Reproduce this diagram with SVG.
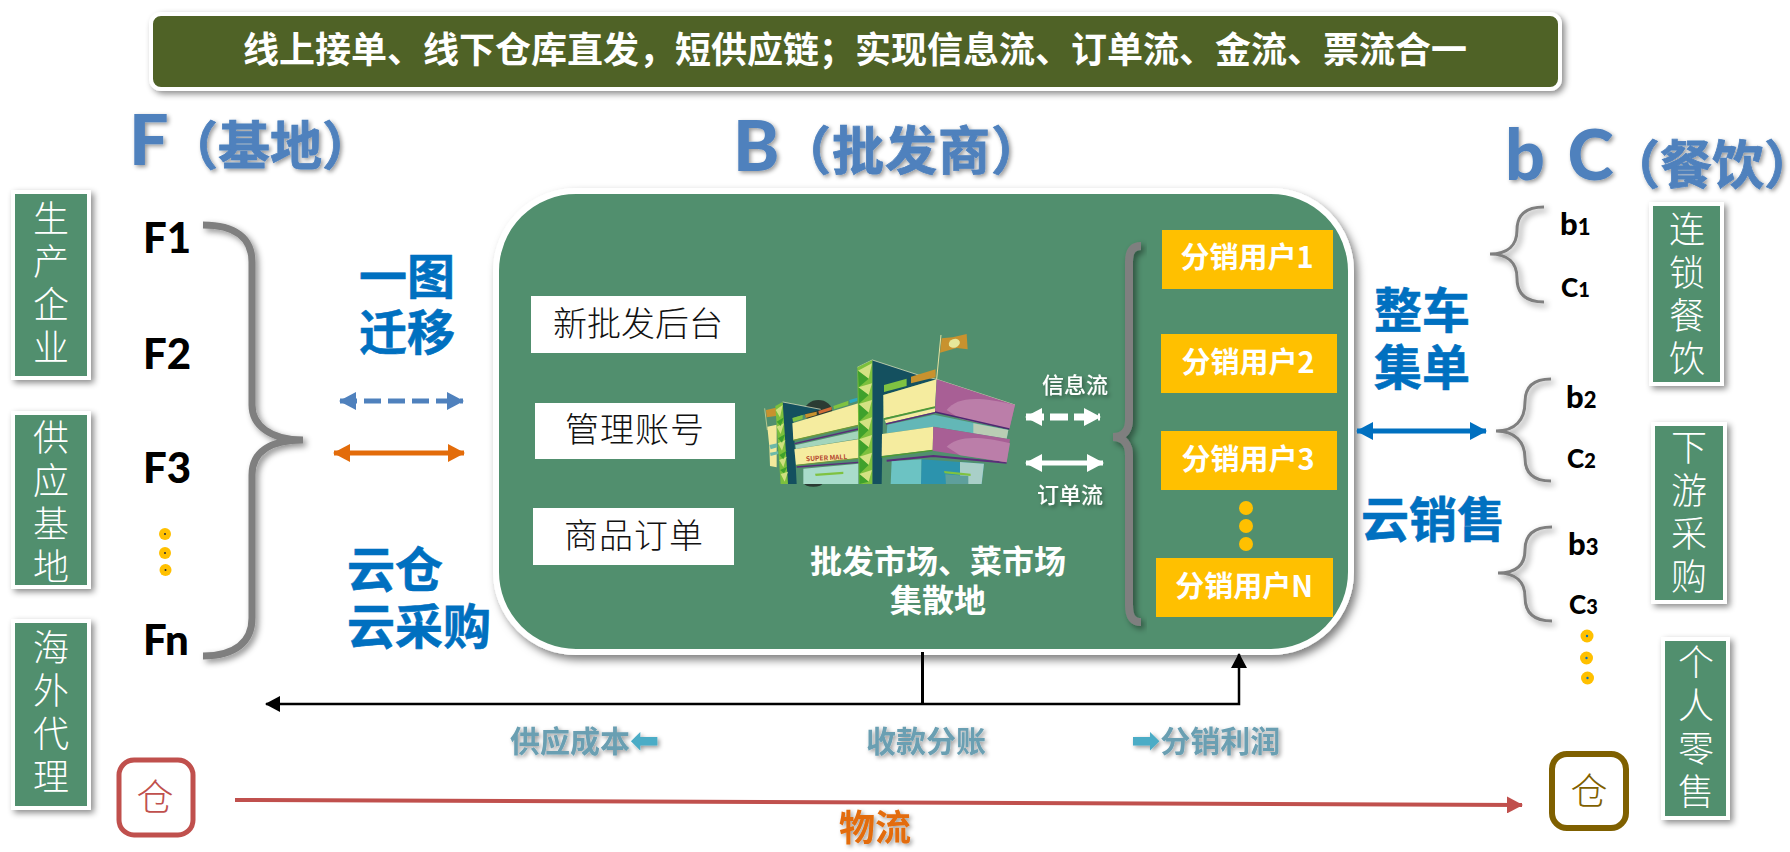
<svg xmlns="http://www.w3.org/2000/svg" width="1790" height="852" viewBox="0 0 1790 852">
<style>
text{font-family:"Noto Sans CJK SC","Noto Sans",sans-serif}
.box{fill:#518f6e;stroke:#fff;stroke-width:4;filter:url(#sh)}
.vt{writing-mode:vertical-rl;font-size:36px;fill:#fff;font-weight:300;letter-spacing:7px}
.head{fill:#4f81bd;font-weight:700;font-size:52px;stroke:#4f81bd;stroke-width:.8;filter:url(#ts)}
.lat{font-family:Lato,"Noto Sans",sans-serif;font-weight:900}
.big{fill:#4f81bd;font-size:70px;filter:url(#ts)}
.blue{fill:#0070c0;stroke:#0070c0;stroke-width:.6;font-weight:700;font-size:48px}
.f{font-size:42px;fill:#000}
.sm{fill:#000}
.wb{fill:#fff;stroke:none}
.wt{font-size:34px;fill:#111;font-weight:300;text-anchor:middle}
.yb{fill:#ffc000}
.yt{font-size:29px;font-weight:700;fill:#fff;text-anchor:middle}
.gt{font-size:30px;font-weight:700;fill:#6a9fb2;filter:url(#ts)}
.ga{font-family:"DejaVu Sans",sans-serif;font-size:35px;fill:#4bacc6}
.fl{font-size:22px;font-weight:500;fill:#fff;text-anchor:middle;filter:url(#ts)}
.mk{font-size:32px;font-weight:700;fill:#fff;text-anchor:middle}
.br{fill:none;stroke:#7f7f7f;filter:url(#sh)}
.dot{fill:#ffc000}
.pip{fill:#1f2a3a}
</style>
<defs>
<filter id="sh" x="-20%" y="-20%" width="140%" height="140%"><feDropShadow dx="3" dy="3" stdDeviation="3" flood-color="#000" flood-opacity=".45"/></filter>
<filter id="shb" x="-5%" y="-5%" width="110%" height="112%"><feDropShadow dx="4" dy="5" stdDeviation="4" flood-color="#000" flood-opacity=".5"/></filter>
<filter id="ts" x="-10%" y="-10%" width="125%" height="130%"><feDropShadow dx="2" dy="2" stdDeviation="2" flood-color="#000" flood-opacity=".4"/></filter>
<marker id="ab" markerUnits="userSpaceOnUse" markerWidth="18" markerHeight="18" refX="16" refY="9" orient="auto-start-reverse"><path d="M0 0L17 9L0 18z" fill="#4f81bd"/></marker>
<marker id="ao" markerUnits="userSpaceOnUse" markerWidth="18" markerHeight="18" refX="16" refY="9" orient="auto-start-reverse"><path d="M0 0L17 9L0 18z" fill="#e36c0a"/></marker>
<marker id="ac" markerUnits="userSpaceOnUse" markerWidth="18" markerHeight="18" refX="16" refY="9" orient="auto-start-reverse"><path d="M0 0L17 9L0 18z" fill="#0070c0"/></marker>
<marker id="aw" markerUnits="userSpaceOnUse" markerWidth="18" markerHeight="18" refX="16" refY="9" orient="auto-start-reverse"><path d="M0 0L17 9L0 18z" fill="#fff"/></marker>
<marker id="ak" markerUnits="userSpaceOnUse" markerWidth="16" markerHeight="16" refX="14" refY="8" orient="auto-start-reverse"><path d="M0 0L15 8L0 16z" fill="#000"/></marker>
<marker id="ar" markerUnits="userSpaceOnUse" markerWidth="17" markerHeight="17" refX="15" refY="8.5" orient="auto-start-reverse"><path d="M0 0L16 8.500L0 17z" fill="#c0504d"/></marker>
</defs>
<rect width="1790" height="852" fill="#fff"/>

<g id="banner">
<rect x="151" y="14" width="1409" height="75" rx="10" fill="#4f6228" stroke="#fff" stroke-width="4" filter="url(#sh)"/>
<text x="855" y="63" font-size="36" font-weight="700" fill="#fff" text-anchor="middle">线上接单、线下仓库直发，短供应链；实现信息流、订单流、金流、票流合一</text>
</g>

<g id="heading-f"><text class="lat big" x="129" y="165">F</text><text class="head" x="166" y="165">（基地）</text></g>
<g id="heading-b"><text class="lat big" x="733" y="171">B</text><text class="head" x="779" y="170" letter-spacing="1">（批发商）</text></g>
<g id="heading-c"><text class="lat big" x="1505" y="180" word-spacing="6">b C</text><text class="head" x="1608" y="184">（餐饮<tspan letter-spacing="-30">）</tspan></text></g>

<g id="left-1"><rect class="box" x="13" y="192" width="76" height="186"/><text class="vt" x="51" y="200">生产企业</text></g>
<g id="left-2"><rect class="box" x="13" y="413" width="76" height="174"/><text class="vt" x="51" y="419">供应基地</text></g>
<g id="left-3"><rect class="box" x="13" y="621" width="76" height="187"/><text class="vt" x="51" y="629">海外代理</text></g>

<g id="right-1"><rect class="box" x="1651" y="204" width="71" height="180"/><text class="vt" x="1687" y="211">连锁餐饮</text></g>
<g id="right-2"><rect class="box" x="1653" y="424" width="72" height="178"/><text class="vt" x="1689" y="429">下游采购</text></g>
<g id="right-3"><rect class="box" x="1663" y="639" width="65" height="179"/><text class="vt" x="1696" y="644">个人零售</text></g>

<g id="f-list">
<text class="lat f" x="143" y="253">F1</text>
<text class="lat f" x="143" y="369">F2</text>
<text class="lat f" x="143" y="483">F3</text>
<text class="lat f" x="143" y="655">Fn</text>
<circle class="dot" cx="165" cy="534" r="6"/><circle class="dot" cx="165" cy="553" r="6"/><circle class="dot" cx="165.500" cy="570" r="6"/>
<circle class="pip" cx="165" cy="534" r="1"/><circle class="pip" cx="165" cy="553" r="1"/><circle class="pip" cx="165.500" cy="570" r="1"/>
</g>

<g id="f-brace"><path class="br" stroke-width="7" d="M203 225C235 225 252 238 252 262V405C252 425 270 440 303 440C270 440 252 452 252 475V618C252 642 235 656 203 656"/></g>

<g id="label-migrate"><text class="blue" text-anchor="middle"><tspan x="407" y="294">一图</tspan><tspan x="407" y="350">迁移</tspan></text></g>
<g id="label-cloud"><text class="blue"><tspan x="347" y="587">云仓</tspan><tspan x="347" y="644">云采购</tspan></text></g>

<g id="market">
<rect x="496" y="191" width="855" height="461" rx="80" fill="#518f6e" stroke="#fff" stroke-width="6" filter="url(#shb)"/>
</g>

<g id="node-backend"><rect class="wb" x="531" y="296" width="215" height="57"/><text class="wt" x="638" y="336">新批发后台</text></g>
<g id="node-account"><rect class="wb" x="535" y="403" width="200" height="56"/><text class="wt" x="635" y="442" letter-spacing="1">管理账号</text></g>
<g id="node-orders"><rect class="wb" x="533" y="508" width="201" height="57"/><text class="wt" x="634" y="548" letter-spacing="1">商品订单</text></g>

<g id="building" transform="translate(760 330) scale(.3333)">
<ellipse cx="175" cy="245" rx="42" ry="35" fill="#2b3b33"/>
<ellipse cx="160" cy="460" rx="28" ry="10" fill="#2b3b33"/>
<path d="M14 235L22 300" stroke="#e8e2a0" stroke-width="2"/>
<path d="M18 240L48 233V258L20 262z" fill="#c8922e"/>
<path d="M22 290L50 284V412L30 408L28 350z" fill="#f3e99c"/>
<path d="M28 345L52 340V352L32 358zM30 368L55 364V372L32 378z" fill="#6cb9a9"/>
<path d="M68 216L182 238L100 264L110 462H66z" fill="#14505f"/>
<path d="M68 216L182 238" stroke="#f5f2c8" stroke-width="2"/>
<path d="M46 228L68 216L84 462H62z" fill="#7cc03d"/>
<path d="M47 240L68 225L60 262zM50 290L72 280L62 312zM54 340L76 330L66 362zM58 390L80 380L70 412zM62 432L84 425L74 455z" fill="#cfe07f"/>
<path d="M50 275L72 262L62 288zM54 325L76 312L66 338zM58 375L80 362L70 388zM60 420L82 410L72 430z" fill="#3fa12c"/>
<path d="M97 280L295 220V285L100 330z" fill="#f5ec9f"/>
<path d="M100 331L295 286" stroke="#6f9b35" stroke-width="4"/>
<path d="M104 341L295 297" stroke="#5a2d7a" stroke-width="4"/>
<path d="M106 346L295 303V326L108 357z" fill="#a3d5bc"/>
<path d="M103 358L295 328V385L108 405z" fill="#f5ec9f"/>
<path d="M108 406L295 385" stroke="#6f9b35" stroke-width="3"/>
<path d="M110 411L295 397" stroke="#5a2d7a" stroke-width="4"/>
<path d="M130 416L295 401V462H130z" fill="#a9dccb"/>
<path d="M165 431L250 425V432L167 438z" fill="#7fc241"/>
<path d="M97 264L128 255V267L99 275zM220 228L265 212V225L222 238z" fill="#7fc241"/>
<path d="M135 253L170 245V255L137 264z" fill="#c8922e"/>
<path d="M175 243L215 230V240L177 252z" fill="#d06b35"/>
<path d="M268 210L292 203V213L270 220z" fill="#2aa8c0"/>
<path d="M337 90L475 135L530 148L370 195L365 462H337z" fill="#14505f"/>
<path d="M292 112L337 90L475 135L530 148L765 225" fill="none" stroke="#f5f2c8" stroke-width="2"/>
<path d="M292 112L337 90V462H297z" fill="#7cc03d"/>
<path d="M294 122L336 100L326 146zM295 172L336 160L326 195zM296 222L336 210L326 248zM297 275L336 262L326 300zM297 328L336 315L326 352zM298 380L336 368L326 405zM298 432L336 420L326 455z" fill="#d3e283"/>
<path d="M294 122L326 146L296 172zM295 172L326 195L296 222zM296 222L326 248L297 275zM297 275L326 300L297 328zM297 328L326 352L298 380zM298 380L326 405L298 432zM298 432L326 455L298 462z" fill="#3fa12c"/>
<path d="M372 165L440 146V168L372 186z" fill="#7fc241"/>
<path d="M453 140L527 118V142L453 160z" fill="#c8922e"/>
<path d="M370 195L530 148L525 230L371 265z" fill="#f5ec9f"/>
<path d="M372 267L525 231" stroke="#4f9a33" stroke-width="4"/>
<path d="M374 270L525 235V246L378 280z" fill="#f5ec9f"/>
<path d="M378 282L525 248" stroke="#5a2d7a" stroke-width="4"/>
<path d="M382 284L522 254V290L380 310z" fill="#63b7b7"/>
<path d="M366 312L520 290L518 360L365 378z" fill="#f5ec9f"/>
<path d="M365 381L518 361" stroke="#4f9a33" stroke-width="4"/>
<path d="M380 392L520 378L740 398" fill="none" stroke="#5a2d7a" stroke-width="6"/>
<path d="M530 148L765 225L748 297L525 246z" fill="#a85f95"/>
<path d="M560 240C590 205 640 195 765 225L748 297L600 266z" fill="#bb7ea9"/>
<path d="M525 246L748 297" stroke="#4c2870" stroke-width="5"/>
<path d="M522 254L745 300L740 326L520 290z" fill="#63b7b7"/>
<path d="M640 280L745 300L740 326L640 310z" fill="#b9cdb4"/>
<path d="M520 290L750 328L740 397L518 362z" fill="#a85f95"/>
<path d="M560 350C590 320 650 315 750 340L740 397L600 376z" fill="#bb7ea9"/>
<path d="M395 394L485 388V462H392z" fill="#6cc3c3"/>
<path d="M485 388L672 401L665 462H483z" fill="#2c93ad"/>
<path d="M600 396L672 401L665 462H600z" fill="#a9cfc8"/>
<path d="M552 423L632 431V438L554 430z" fill="#7fc241"/>
<path d="M556 433L625 438V462H558z" fill="#5e9f9c"/>
<path d="M543 15L530 148" stroke="#e8e2a0" stroke-width="3"/>
<path d="M545 25L578 22L620 12L623 58L590 54L540 68z" fill="#c8922e"/>
<ellipse cx="583" cy="40" rx="17" ry="13" fill="#e6e79a" transform="rotate(-20 583 40)"/>
<text x="138" y="394" font-size="20" font-weight="700" fill="#b5472f" transform="rotate(-3 138 394)">SUPER MALL</text>
</g>

<g id="flow-labels"><text class="fl" x="1075" y="393">信息流</text><text class="fl" x="1070" y="503">订单流</text></g>
<g id="label-market"><text class="mk"><tspan x="938" y="573">批发市场、菜市场</tspan><tspan x="938" y="612">集散地</tspan></text></g>

<g id="inner-brace"><path class="br" stroke-width="8" d="M1141 246C1132 246 1129 252 1129 262V420C1129 430 1124 437 1113 437C1124 437 1129 445 1129 455V605C1129 616 1132 622 1141 622"/></g>

<g id="seller-1"><rect class="yb" x="1162" y="230" width="171" height="59"/><text class="yt" x="1247" y="268">分销用户1</text></g>
<g id="seller-2"><rect class="yb" x="1161" y="334" width="176" height="59"/><text class="yt" x="1248" y="373">分销用户2</text></g>
<g id="seller-3"><rect class="yb" x="1161" y="431" width="176" height="59"/><text class="yt" x="1248" y="470">分销用户3</text></g>
<circle class="dot" cx="1246" cy="508" r="7"/><circle class="dot" cx="1246" cy="526" r="7"/><circle class="dot" cx="1246" cy="544" r="7"/>
<g id="seller-n"><rect class="yb" x="1156" y="558" width="177" height="59"/><text class="yt" x="1244" y="597">分销用户N</text></g>

<g id="label-truck"><text class="blue" text-anchor="middle"><tspan x="1422" y="328">整车</tspan><tspan x="1422" y="385">集单</tspan></text></g>
<g id="label-cloudsale"><text class="blue" x="1433" y="537" text-anchor="middle">云销售</text></g>

<g id="braces-right">
<path class="br" stroke-width="3" d="M1544 207C1526 207 1517 215 1517 230C1517 245 1508 254 1490 254C1508 254 1517 263 1517 278C1517 294 1526 302 1544 302"/>
<path class="br" stroke-width="3" d="M1551 379C1533 379 1525 387 1525 402C1525 420 1515 431 1496 431C1515 431 1525 442 1525 458C1525 473 1533 481 1551 481"/>
<path class="br" stroke-width="3" d="M1552 527C1534 527 1525 535 1525 550C1525 565 1516 573 1498 573C1516 573 1525 582 1525 597C1525 613 1534 621 1552 621"/>
</g>

<g id="customers">
<text class="lat sm" x="1560" y="235" font-size="31">b<tspan font-size="22">1</tspan></text>
<text class="lat sm" x="1561" y="297" font-size="26">C<tspan font-size="20">1</tspan></text>
<text class="lat sm" x="1566" y="408" font-size="31">b<tspan font-size="22">2</tspan></text>
<text class="lat sm" x="1567" y="468" font-size="26">C<tspan font-size="20">2</tspan></text>
<text class="lat sm" x="1568" y="555" font-size="31">b<tspan font-size="22">3</tspan></text>
<text class="lat sm" x="1569" y="614" font-size="26">C<tspan font-size="20">3</tspan></text>
<circle class="dot" cx="1587" cy="636" r="6.500"/><circle class="dot" cx="1586.500" cy="658" r="6.500"/><circle class="dot" cx="1587.500" cy="678" r="6.500"/>
<circle cx="1587" cy="636" r="1.200" fill="#0070c0"/><circle cx="1586.500" cy="658" r="1.200" fill="#0070c0"/><circle cx="1587.500" cy="678" r="1.200" fill="#0070c0"/>
</g>

<g id="connectors" fill="none">
<path d="M340 401H463" stroke="#4f81bd" stroke-width="5" stroke-dasharray="17 7" marker-start="url(#ab)" marker-end="url(#ab)"/>
<path d="M334 453H464" stroke="#e36c0a" stroke-width="5" marker-start="url(#ao)" marker-end="url(#ao)"/>
<path d="M1026 417H1100" stroke="#fff" stroke-width="7" stroke-dasharray="18 6" marker-start="url(#aw)" marker-end="url(#aw)"/>
<path d="M1026 463H1103" stroke="#fff" stroke-width="5" marker-start="url(#aw)" marker-end="url(#aw)"/>
<path d="M1357 431H1486" stroke="#0070c0" stroke-width="5" marker-start="url(#ac)" marker-end="url(#ac)"/>
<path d="M922.500 652V704" stroke="#000" stroke-width="3"/>
<path d="M1239 654V704H266" stroke="#000" stroke-width="2.500" marker-start="url(#ak)" marker-end="url(#ak)"/>
<path d="M235 800L1522 805" stroke="#c0504d" stroke-width="4" marker-end="url(#ar)"/>
</g>

<g id="label-cost"><text class="gt" x="510" y="752">供应成本<tspan class="ga">⬅</tspan></text></g>
<g id="label-split"><text class="gt" x="866" y="752">收款分账</text></g>
<g id="label-profit"><text class="gt" x="1131" y="752"><tspan class="ga">➡</tspan>分销利润</text></g>

<g id="wh-left"><rect x="119" y="760" width="74" height="75" rx="15" fill="#fff" stroke="#c0504d" stroke-width="5"/><text x="155" y="811" font-size="37" font-weight="300" fill="#c0504d" text-anchor="middle">仓</text></g>
<g id="wh-right"><rect x="1552" y="754" width="74" height="74" rx="15" fill="#fff" stroke="#7f6000" stroke-width="6"/><text x="1589" y="805" font-size="37" font-weight="300" fill="#7f6000" text-anchor="middle">仓</text></g>
<g id="label-logistics"><text x="875" y="841" font-size="36" font-weight="700" fill="#e36c0a" text-anchor="middle" filter="url(#ts)">物流</text></g>
</svg>
